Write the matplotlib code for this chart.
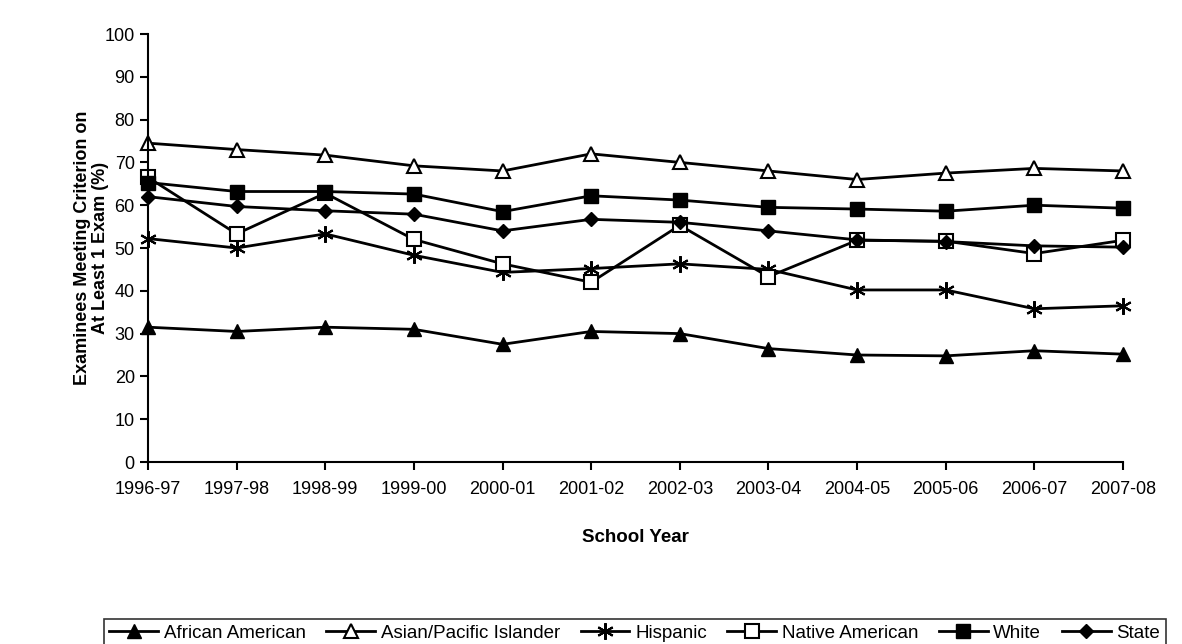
import matplotlib.pyplot as plt

years = ['1996-97', '1997-98', '1998-99', '1999-00', '2000-01', '2001-02',
         '2002-03', '2003-04', '2004-05', '2005-06', '2006-07', '2007-08']

african_american = [31.5, 30.5, 31.5, 31.0, 27.5, 30.5, 30.0, 26.5, 25.0, 24.8, 26.0, 25.2]
asian_pacific = [74.5, 73.0, 71.7, 69.2, 68.0, 72.0, 70.0, 68.0, 66.0, 67.5, 68.6, 68.0]
hispanic = [52.2, 50.0, 53.3, 48.3, 44.3, 45.2, 46.3, 45.0, 40.2, 40.2, 35.8, 36.5]
native_american = [66.5, 53.3, 62.8, 52.0, 46.3, 42.0, 55.3, 43.3, 51.8, 51.6, 48.7, 51.8]
white = [65.3, 63.2, 63.2, 62.6, 58.5, 62.2, 61.2, 59.5, 59.1, 58.6, 60.0, 59.3]
state = [62.0, 59.7, 58.7, 57.9, 54.0, 56.7, 56.0, 54.0, 51.9, 51.5, 50.5, 50.2]

plt.rcParams['font.family'] = ['Liberation Sans', 'DejaVu Sans']

fig = plt.figure(figsize=(11.82, 6.44), dpi=100)
ax = fig.add_axes([0.1252, 0.2826, 0.8249, 0.6646])

x = range(len(years))
style = dict(color='black', linewidth=2, markersize=10, clip_on=False)
ax.plot(x, african_american, marker='^', markerfacecolor='black', label='African American', **style)
ax.plot(x, asian_pacific, marker='^', markerfacecolor='white', markeredgewidth=1.5,
        label='Asian/Pacific Islander', **style)
ax.plot(x, hispanic, marker=(6, 2, 0), markeredgewidth=1.5, markersize=12, color='black',
        linewidth=2, clip_on=False, label='Hispanic')
ax.plot(x, native_american, marker='s', markerfacecolor='white', markeredgewidth=1.5,
        label='Native American', **style)
ax.plot(x, white, marker='s', markerfacecolor='black', label='White', **style)
ax.plot(x, state, marker='D', markerfacecolor='black', markersize=7, color='black',
        linewidth=2, clip_on=False, label='State')

ax.set_xlim(0, 11)
ax.set_ylim(0, 100)
ax.set_yticks(range(0, 101, 10))
ax.set_xticks(list(x))
ax.set_xticklabels(years)
ax.tick_params(labelsize=13, width=1.5, length=6)
ax.tick_params(axis='x', pad=8)
for s in ['top', 'right']:
    ax.spines[s].set_visible(False)
for s in ['left', 'bottom']:
    ax.spines[s].set_linewidth(1.5)

ax.set_xlabel('School Year', fontsize=13.5, fontweight='bold', labelpad=22)
ax.set_ylabel('Examinees Meeting Criterion on\nAt Least 1 Exam (%)', fontsize=13,
              fontweight='bold', linespacing=1.1)
ax.yaxis.set_label_coords(-0.04, 0.5)

leg = fig.legend(loc='lower center', bbox_to_anchor=(0.537, -0.02), ncol=6, fontsize=13.5,
                 frameon=True, fancybox=False, edgecolor='black', handlelength=2.6,
                 columnspacing=1.1, handletextpad=0.3, borderpad=0.3)
leg.get_frame().set_linewidth(1.2)

fig.savefig('out.png', dpi=100)
